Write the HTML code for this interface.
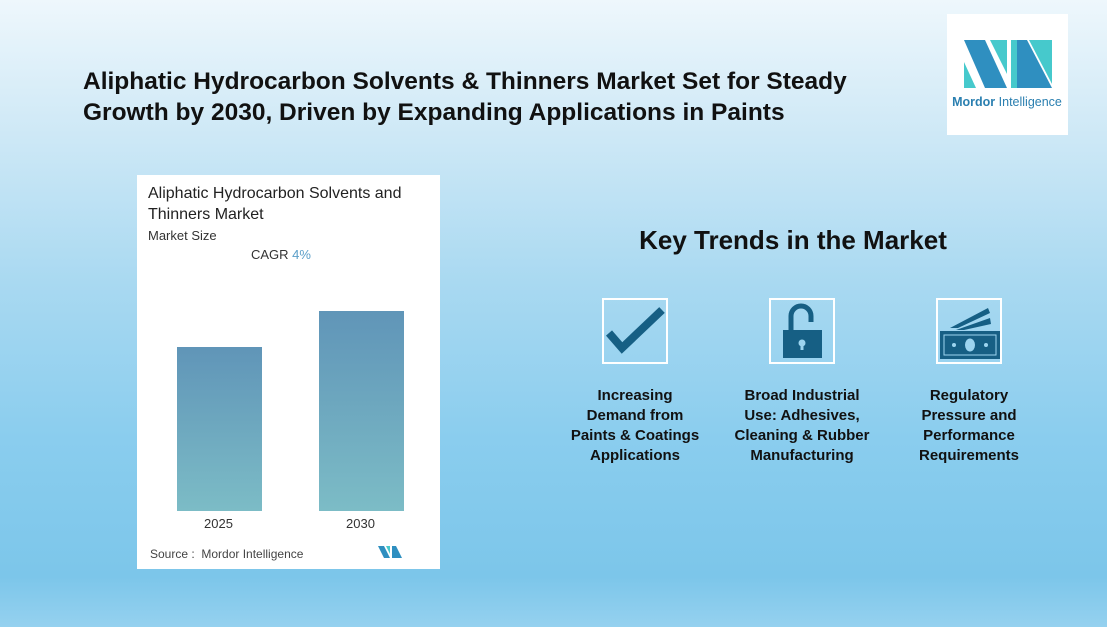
<!DOCTYPE html>
<html><head><style>
body{margin:0;width:1107px;height:627px;overflow:hidden;font-family:"Liberation Sans",sans-serif;
background:linear-gradient(180deg,#eef7fc 0%,#cde8f6 22%,#a9d9f1 45%,#8acdee 70%,#7cc6ea 92%,#95d1ef 100%);position:relative}
.a{position:absolute}
h1{position:absolute;left:83px;top:66px;margin:0;font-size:24.5px;line-height:31px;font-weight:bold;color:#111;white-space:nowrap}
.card{left:137px;top:175px;width:303px;height:394px;background:#fff}
.bar{position:absolute;background:linear-gradient(180deg,#6095b8,#7cbcc6)}
.lab{font-size:13px;color:#333}
.kt{left:560px;top:225px;width:466px;text-align:center;font-size:26px;font-weight:bold;color:#111}
.ic{position:absolute;top:298px;width:66px;height:66px;border:2px solid #fff;box-sizing:border-box}
.tx{position:absolute;top:386px;width:150px;text-align:center;font-size:15px;font-weight:bold;line-height:20px;color:#111}
</style></head><body>
<h1>Aliphatic Hydrocarbon Solvents &amp; Thinners Market Set for Steady<br>Growth by 2030, Driven by Expanding Applications in Paints</h1>
<div class="a" style="left:947px;top:14px;width:121px;height:121px;background:#fff">
<svg width="121" height="121" viewBox="0 0 121 121">
<polygon points="17,26 38,26 60,74 38,74" fill="#2f8fc0"/>
<polygon points="17,48 29,74 17,74" fill="#46c9cc"/>
<polygon points="43,26 60,26 60,60" fill="#46c9cc"/>
<polygon points="64,26 70,26 70,74 64,74" fill="#46c9cc"/>
<polygon points="70,26 80,26 105,74 70,74" fill="#2f8fc0"/>
<polygon points="82,26 105,26 105,70" fill="#46c9cc"/>
<text x="60" y="92" text-anchor="middle" font-size="12.5" fill="#2a7fb0" font-family="Liberation Sans"><tspan font-weight="bold">Mordor</tspan> Intelligence</text>
</svg></div>
<div class="a card">
<div class="a" style="left:11px;top:8px;font-size:16px;line-height:21px;color:#222">Aliphatic Hydrocarbon Solvents and<br>Thinners Market</div>
<div class="a lab" style="left:11px;top:53px">Market Size</div>
<div class="a lab" style="left:114px;top:72px">CAGR <span style="color:#5a9ec8">4%</span></div>
<div class="bar" style="left:40px;top:172px;width:85px;height:164px"></div>
<div class="bar" style="left:182px;top:136px;width:85px;height:200px"></div>
<div class="a lab" style="left:67px;top:341px">2025</div>
<div class="a lab" style="left:209px;top:341px">2030</div>
<div class="a" style="left:13px;top:372px;font-size:12px;color:#444">Source :&nbsp; Mordor Intelligence</div>
<svg class="a" style="left:240px;top:370px" width="26" height="14"><polygon points="1,1 7,1 13,13 7,13" fill="#2f8fc0"/><polygon points="9,1 13,1 13,9" fill="#46c9cc"/><polygon points="15,1 19,1 25,13 15,13" fill="#2f8fc0"/></svg>
</div>
<div class="a kt">Key Trends in the Market</div>
<div class="ic" style="left:602px"><svg width="62" height="62"><polyline points="5,33 18,48 58,10" fill="none" stroke="#165f84" stroke-width="8"/></svg></div>
<div class="ic" style="left:769px"><svg width="62" height="62"><path d="M20,30 V16 a10,10 0 0 1 20,0 V22" fill="none" stroke="#165f84" stroke-width="5"/><rect x="12" y="30" width="39" height="28" fill="#165f84"/><circle cx="31" cy="43" r="3.5" fill="#9cd4ef"/><rect x="29.5" y="43" width="3" height="7" fill="#9cd4ef"/></svg></div>
<div class="ic" style="left:936px"><svg width="62" height="62"><polygon points="12,28 50,8 52,13 20,28" fill="#165f84"/><polygon points="18,30 52,18 53,24 26,30" fill="#165f84"/><rect x="2" y="31" width="60" height="28" fill="#165f84"/><rect x="6" y="35" width="52" height="20" fill="none" stroke="#9cd4ef" stroke-width="1"/><ellipse cx="32" cy="45" rx="5" ry="6.5" fill="#9cd4ef"/><circle cx="16" cy="45" r="2" fill="#9cd4ef"/><circle cx="48" cy="45" r="2" fill="#9cd4ef"/></svg></div>
<div class="tx" style="left:560px">Increasing<br>Demand from<br>Paints &amp; Coatings<br>Applications</div>
<div class="tx" style="left:727px">Broad Industrial<br>Use: Adhesives,<br>Cleaning &amp; Rubber<br>Manufacturing</div>
<div class="tx" style="left:894px">Regulatory<br>Pressure and<br>Performance<br>Requirements</div>
</body></html>
